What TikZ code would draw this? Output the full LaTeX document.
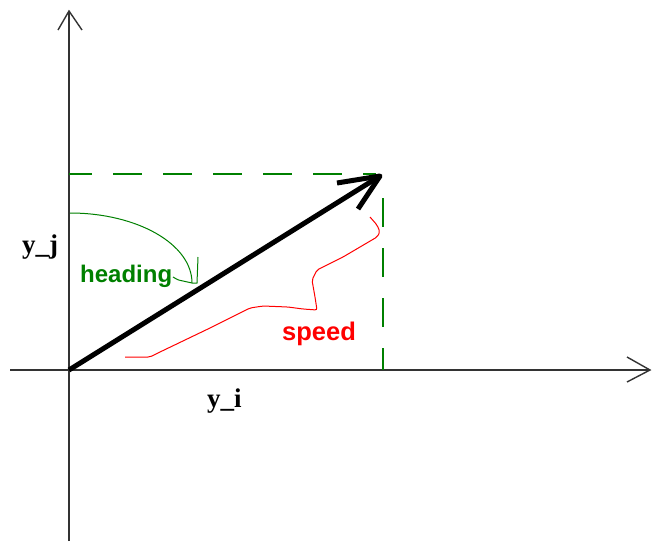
\documentclass[tikz,border=0pt]{standalone}
\usepackage{fontspec}
\newfontfamily\lblsans{Liberation Sans}
\newfontfamily\lblserif{Liberation Serif}
\definecolor{dgreen}{RGB}{0,128,0}
\definecolor{lred}{RGB}{255,0,0}
\tikzset{
  axisline/.style={draw=black!80, line width=1.7pt},
  axishead/.style={draw=black!80, line width=1.4pt},
  guide/.style={draw=dgreen, line width=1.5pt, dash pattern=on 29pt off 21pt},
  vecline/.style={draw=black, line width=5pt, line join=round},
  greenlabel/.style={text=dgreen, font=\lblsans\bfseries\fontsize{24}{24}\selectfont, inner sep=0pt, anchor=base west},
  redlabel/.style={text=lred, font=\lblsans\bfseries\fontsize{25.5}{25.5}\selectfont, inner sep=0pt, anchor=base west},
  axislabel/.style={text=black, font=\lblserif\bfseries\fontsize{27}{27}\selectfont, inner sep=0pt, anchor=base west},
}
\begin{document}
\begin{tikzpicture}[x=1pt,y=-1pt]
\useasboundingbox (0,0) rectangle (663,541);
% coordinates
\coordinate (O) at (69,370);
\coordinate (XS) at (10,370);
\coordinate (XE) at (650,370);
\coordinate (XA1) at (627,357);
\coordinate (XA2) at (627,382);
\coordinate (YS) at (69,541);
\coordinate (YE) at (69,11);
\coordinate (YA1) at (58,30);
\coordinate (YA2) at (82,30);
\coordinate (T) at (380,176);
\coordinate (TA1) at (337,183);
\coordinate (TA2) at (358,209);
\coordinate (HL) at (69,174);
\coordinate (HR) at (376,174);
\coordinate (VT) at (383,198);
\coordinate (VB) at (383,370);
% axes
\draw[axisline] (XS) -- (XE);
\draw[axishead] (XA1) -- (XE) -- (XA2);
\draw[axisline] (YS) -- (YE);
\draw[axishead] (YA1) -- (YE) -- (YA2);
% dashed guides
\draw[guide, dash phase=6pt] (HL) -- (HR);
\draw[guide] (VT) -- (VB);
% vector
\draw[vecline] (O) -- (T);
\draw[vecline] (TA1) -- (T) -- (TA2);
% heading arc
\coordinate (HA) at (70,213);
\coordinate (HB) at (192,283);
\draw[dgreen, line width=1pt] (HA) .. controls (137,213) and (192,244) .. (HB);
\draw[dgreen, line width=1pt] (173,277) .. controls (178,280) .. (183,281) -- (HB) -- (197,283) -- (198,257);
% speed brace
\draw[lred, line width=1pt, rounded corners=2pt] (125,357) -- (150,357) -- (160,352) -- (210,328) -- (250,308) -- (263,306) -- (288,307) -- (303,309) -- (317,310) -- (315,297) -- (312,280) -- (317,270) -- (343,257) -- (377,237) -- (380,232) -- (377,225) -- (370,217);
% labels
\node[greenlabel] (heading) at (80,282) {heading};
\node[redlabel] (speed) at (282,340) {speed};
\node[axislabel] (yj) at (22,253) {y\_j};
\node[axislabel] (yi) at (207,407) {y\_i};
\end{tikzpicture}
\end{document}
